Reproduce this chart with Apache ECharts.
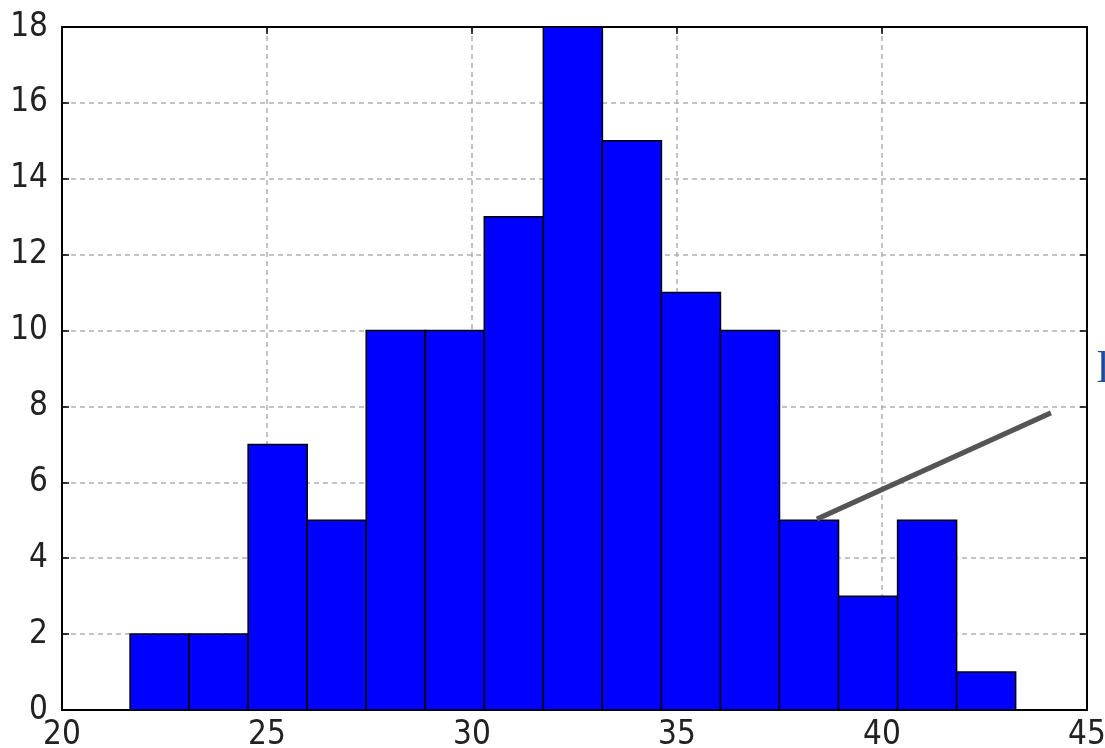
<!DOCTYPE html>
<html>
<head>
<meta charset="utf-8">
<script src="https://cdn.jsdelivr.net/npm/echarts@6/dist/echarts.min.js"></script>
<style>
  html, body { margin: 0; padding: 0; background: #fff; }
  #main { width: 1105px; height: 748px; }
</style>
</head>
<body>
<div id="main"></div>
<script>
// histogram bin edges and counts
var binEdges = [21.66, 23.1, 24.54, 25.98, 27.42, 28.86, 30.3, 31.74, 33.18, 34.62, 36.06, 37.5, 38.94, 40.38, 41.82, 43.26];
var counts = [2, 2, 7, 5, 10, 10, 13, 18, 15, 11, 10, 5, 3, 5, 1];
// grey annotation stroke
var pointerLine = [[38.41, 5.03], [44.12, 7.83]];

var fontFam = '"Liberation Sans Narrow", "DejaVu Sans Condensed", "DejaVu Sans", sans-serif';

var bars = [];
for (var i = 0; i < counts.length; i++) {
  bars.push([binEdges[i], binEdges[i + 1], counts[i]]);
}

var chart = echarts.init(document.getElementById('main'));

var gridDash = {
  show: true,
  lineStyle: { color: '#b0b0b0', width: 1.5, type: [5, 4] }
};

var option = {
  animation: false,
  backgroundColor: '#fff',
  grid: { left: 62, right: 18, top: 27, bottom: 38, outerBoundsMode: 'none', containLabel: false },
  xAxis: [{
    type: 'value',
    min: 20,
    max: 45,
    interval: 5,
    axisLine: { show: true, onZero: false, lineStyle: { color: '#000', width: 2 } },
    axisTick: { show: true, inside: true, length: 7, lineStyle: { color: '#000', width: 1.5 } },
    axisLabel: { color: '#222', fontSize: 33, fontFamily: fontFam, margin: 9 },
    splitLine: gridDash
  }, {
    type: 'value',
    position: 'top',
    min: 20,
    max: 45,
    interval: 5,
    axisLine: { show: true, onZero: false, lineStyle: { color: '#000', width: 2 } },
    axisTick: { show: true, inside: true, length: 7, lineStyle: { color: '#000', width: 1.5 } },
    axisLabel: { show: false },
    splitLine: { show: false }
  }],
  yAxis: [{
    type: 'value',
    min: 0,
    max: 18,
    interval: 2,
    axisLine: { show: true, onZero: false, lineStyle: { color: '#000', width: 2 } },
    axisTick: { show: true, inside: true, length: 7, lineStyle: { color: '#000', width: 1.5 } },
    axisLabel: { color: '#222', fontSize: 33, fontFamily: fontFam, margin: 14, verticalAlign: 'middle', padding: [0, 0, 6, 0] },
    splitLine: gridDash
  }, {
    type: 'value',
    position: 'right',
    min: 0,
    max: 18,
    interval: 2,
    axisLine: { show: true, onZero: false, lineStyle: { color: '#000', width: 2 } },
    axisTick: { show: true, inside: true, length: 7, lineStyle: { color: '#000', width: 1.5 } },
    axisLabel: { show: false },
    splitLine: { show: false }
  }],
  series: [{
    type: 'custom',
    xAxisIndex: 0,
    yAxisIndex: 0,
    data: bars,
    encode: { x: [0, 1], y: 2 },
    renderItem: function(params, api) {
      var p0 = api.coord([api.value(0), api.value(2)]);
      var p1 = api.coord([api.value(1), 0]);
      return {
        type: 'rect',
        shape: { x: p0[0], y: p0[1], width: p1[0] - p0[0], height: p1[1] - p0[1] },
        style: { fill: '#0000ff', stroke: '#000', lineWidth: 1.5 }
      };
    },
    z: 3
  }, {
    type: 'line',
    xAxisIndex: 0,
    yAxisIndex: 0,
    data: pointerLine,
    symbol: 'none',
    lineStyle: { color: '#555', width: 5 },
    z: 5
  }],
  graphic: [{
    type: 'text',
    left: 1097,
    top: 348,
    style: { text: 'l', fill: '#1c4a9c', font: '44px "Liberation Serif", serif' }
  }]
};

chart.setOption(option);
</script>
</body>
</html>
